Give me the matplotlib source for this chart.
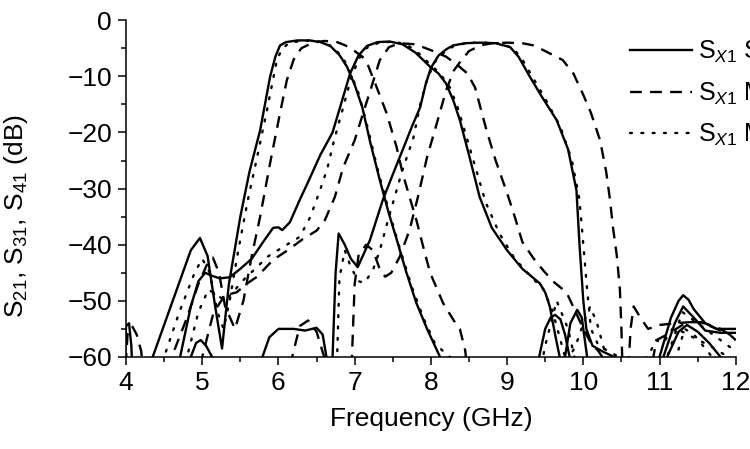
import numpy as np
import matplotlib
matplotlib.use("Agg")
import matplotlib.pyplot as plt
from matplotlib.ticker import MultipleLocator

plt.rcParams['font.family'] = ['Liberation Sans', 'DejaVu Sans']
plt.rcParams['mathtext.fontset'] = 'custom'
plt.rcParams['mathtext.rm'] = 'Liberation Sans'
plt.rcParams['mathtext.it'] = 'Liberation Sans:italic'

# frequency (GHz), dB  -- values below -60 are off the plot
s21_sim = np.array([
    [4.3, -65], [4.35, -60], [4.6, -50.5], [4.85, -41], [4.97, -38.8], [5.07, -42],
    [5.17, -51], [5.26, -58.5], [5.35, -47], [5.5, -35], [5.62, -27], [5.76, -19.6],
    [5.89, -10.1], [5.96, -6.5], [6.02, -4.5], [6.1, -3.9], [6.25, -3.6], [6.41, -3.6],
    [6.55, -3.9], [6.68, -4.6], [6.8, -6.2], [6.9, -8.3], [7.0, -11.5], [7.1, -15.5],
    [7.2, -21.5], [7.33, -28.5], [7.45, -34.5], [7.55, -39], [7.68, -45], [7.81, -50.4],
    [7.95, -55], [8.12, -60], [8.2, -63], [9.38, -65], [9.42, -60], [9.5, -55],
    [9.57, -53], [9.63, -52.5], [9.7, -53.3], [9.76, -56], [9.82, -60], [9.86, -65],
    [10.95, -65], [11.0, -60], [11.15, -53], [11.25, -50], [11.31, -49], [11.38, -49.8],
    [11.45, -51.5], [11.6, -54], [11.75, -55], [12.0, -55]])

s31_sim = np.array([
    [4.65, -65], [4.71, -60], [4.85, -51], [4.95, -46.5], [5.04, -45], [5.12, -45.5],
    [5.23, -46], [5.36, -45.8], [5.5, -44.3], [5.65, -42.5], [5.8, -39.5], [5.93, -37],
    [6.0, -36.9], [6.05, -37.4], [6.15, -36], [6.28, -32], [6.4, -28.5], [6.55, -24],
    [6.71, -20], [6.82, -15], [6.94, -9.5], [7.05, -6.3], [7.16, -4.6], [7.3, -3.9],
    [7.46, -3.8], [7.63, -4.3], [7.8, -5.8], [7.99, -8.3], [8.1, -9.5], [8.2, -11.3],
    [8.3, -14.5], [8.38, -17.8], [8.5, -24], [8.64, -31.5], [8.8, -37], [9.0, -41],
    [9.2, -44.3], [9.43, -46.9], [9.5, -48.5], [9.56, -51], [9.63, -56], [9.69, -60],
    [9.72, -65], [9.74, -65], [9.76, -60], [9.83, -54], [9.92, -51.6], [9.98, -53],
    [10.05, -60], [10.08, -65], [11.0, -65], [11.05, -60], [11.2, -54], [11.31, -51],
    [11.45, -53], [11.6, -55.3], [11.8, -55.7], [12.0, -55.7]])

s41_sim = np.array([
    [3.98, -65], [4.0, -54.5], [4.04, -54], [4.07, -58], [4.09, -65], [4.82, -65],
    [4.85, -60], [4.92, -57.5], [4.98, -57], [5.05, -58], [5.13, -60], [5.16, -65],
    [5.75, -65], [5.79, -60], [5.88, -56.5], [6.0, -55], [6.2, -55], [6.35, -55.3],
    [6.5, -54.8], [6.58, -56], [6.63, -60], [6.66, -65], [6.69, -65], [6.71, -60],
    [6.75, -45], [6.79, -38], [6.87, -40], [6.95, -42.5], [7.04, -44], [7.2, -39.2],
    [7.37, -32], [7.5, -27.5], [7.63, -23.1], [7.75, -19], [7.86, -15.5], [7.93, -11.5],
    [8.0, -8.5], [8.1, -6.3], [8.2, -5.2], [8.29, -4.5], [8.45, -4.1], [8.64, -4.0],
    [8.85, -4.1], [9.04, -4.8], [9.15, -6.5], [9.3, -10.1], [9.45, -13.5], [9.65, -17.8],
    [9.8, -23], [9.91, -30.3], [9.95, -40], [10.0, -50], [10.04, -55], [10.12, -58],
    [10.25, -59], [10.48, -60.5], [11.05, -65], [11.1, -60], [11.25, -55.5],
    [11.36, -54.3], [11.5, -55.5], [11.65, -57.5], [11.8, -60], [11.85, -65]])

s21_meas1 = np.array([
    [3.98, -65], [4.02, -56], [4.08, -54.5], [4.14, -56], [4.2, -59], [4.24, -65],
    [4.55, -65], [4.6, -60], [4.8, -53], [4.95, -47], [5.08, -43], [5.14, -42.3],
    [5.22, -45], [5.3, -51], [5.43, -55], [5.54, -50], [5.65, -42], [5.76, -35],
    [5.89, -25.5], [6.02, -16.6], [6.11, -10.7], [6.2, -7], [6.3, -5], [6.45, -4],
    [6.6, -3.7], [6.75, -3.8], [6.88, -4.5], [7.0, -5.5], [7.1, -6.5], [7.16, -7.5],
    [7.29, -12], [7.42, -16.6], [7.55, -22.6], [7.63, -27.3], [7.72, -31.5],
    [7.81, -35.6], [7.9, -40.4], [7.99, -45], [8.16, -50.4], [8.3, -53.5], [8.38, -55],
    [8.45, -58.8], [8.5, -65], [10.85, -65], [10.96, -57], [11.1, -56], [11.36, -53.8],
    [11.55, -53.8], [11.75, -55], [11.92, -56], [12.0, -57]])

s31_meas1 = np.array([
    [4.95, -65], [5.0, -60], [5.15, -52], [5.3, -49], [5.45, -48.5], [5.58, -47],
    [5.72, -45.7], [5.93, -42.7], [6.12, -41], [6.32, -39], [6.5, -37.5], [6.61, -35.6],
    [6.74, -31.5], [6.85, -26.2], [7.0, -21.4], [7.11, -16.6], [7.22, -11.9],
    [7.33, -7.1], [7.45, -4.8], [7.59, -4.1], [7.8, -4.3], [8.03, -5.5], [8.2, -6.5],
    [8.35, -8], [8.48, -9.5], [8.58, -12], [8.73, -19.6], [8.85, -25], [9.0, -30.8],
    [9.1, -35], [9.2, -39.5], [9.35, -42.5], [9.47, -44.5], [9.6, -46.5], [9.78, -48.5],
    [9.9, -52], [10.0, -55], [10.1, -57.5], [10.2, -59], [10.3, -61]])

s41_meas1 = np.array([
    [6.1, -65], [6.18, -60], [6.28, -54.5], [6.39, -53.5], [6.5, -55.5], [6.6, -60],
    [6.65, -65], [6.95, -65], [6.97, -58], [7.0, -47], [7.05, -42], [7.15, -40],
    [7.24, -41], [7.32, -44], [7.4, -45.7], [7.48, -45], [7.59, -42.2], [7.72, -37.4],
    [7.83, -31.5], [7.95, -24.4], [8.09, -17.8], [8.2, -12.5], [8.3, -9], [8.38, -7.5],
    [8.5, -5.5], [8.65, -4.5], [8.8, -4.1], [9.0, -4.0], [9.2, -4.1], [9.35, -4.5],
    [9.5, -5.5], [9.73, -7.1], [9.87, -9.5], [9.99, -13], [10.1, -16.5], [10.22, -21.4],
    [10.3, -27], [10.35, -32], [10.39, -37], [10.44, -42], [10.48, -48], [10.5, -55],
    [10.52, -65], [10.58, -65], [10.62, -55], [10.66, -51], [10.75, -53], [10.85, -55],
    [11.0, -54.3], [11.2, -54], [11.4, -53.8], [11.6, -54], [11.8, -55], [11.92, -56],
    [12.0, -57]])

s21_meas2 = np.array([
    [4.45, -65], [4.5, -60], [4.7, -52], [4.9, -45], [5.0, -42.5], [5.1, -45],
    [5.2, -52], [5.28, -55], [5.36, -50], [5.46, -42], [5.59, -32.6], [5.72, -24.4],
    [5.85, -16], [5.93, -10.5], [5.98, -7.1], [6.05, -5], [6.15, -4], [6.3, -3.7],
    [6.45, -3.6], [6.6, -4.0], [6.72, -4.8], [6.85, -6.8], [6.95, -9.5], [7.05, -13],
    [7.15, -18], [7.3, -26.5], [7.45, -34], [7.6, -41], [7.75, -47.5], [7.9, -53],
    [8.05, -57.5], [8.2, -59.5], [8.35, -61], [9.4, -65], [9.5, -58], [9.65, -50],
    [9.8, -55], [9.9, -61], [11.0, -65], [11.1, -60], [11.3, -52], [11.5, -54],
    [11.7, -56], [11.9, -58], [12.0, -59]])

s31_meas2 = np.array([
    [4.75, -65], [4.8, -60], [4.95, -52], [5.08, -48], [5.2, -49], [5.3, -50],
    [5.4, -48.5], [5.58, -45.7], [5.72, -44], [5.85, -42.2], [6.05, -40.5],
    [6.28, -38.6], [6.42, -35], [6.54, -30.5], [6.64, -26.5], [6.73, -21.4],
    [6.85, -15.5], [6.95, -10.5], [7.05, -7], [7.15, -5], [7.3, -4.1], [7.5, -3.8],
    [7.68, -4.3], [7.85, -6], [8.0, -8], [8.12, -9.5], [8.25, -12], [8.35, -15.5],
    [8.45, -20], [8.58, -26], [8.72, -32.5], [8.9, -38], [9.1, -42.5], [9.3, -45.5],
    [9.48, -48], [9.6, -52], [9.7, -57], [9.78, -61], [9.9, -58], [10.0, -54],
    [10.09, -51], [10.18, -54], [10.3, -60], [10.4, -62], [10.85, -60], [10.95, -57],
    [11.05, -57.5], [11.17, -55], [11.3, -55.5], [11.44, -56.5], [11.66, -58],
    [11.9, -60], [12.0, -61]])

s41_meas2 = np.array([
    [6.74, -65], [6.77, -60], [6.8, -46], [6.87, -41], [6.95, -44], [7.05, -46.5],
    [7.13, -46.8], [7.24, -44.5], [7.33, -41], [7.45, -35], [7.62, -27], [7.77, -21],
    [7.86, -15], [7.95, -10.5], [8.05, -7.5], [8.15, -6], [8.3, -4.6], [8.5, -4.0],
    [8.7, -4.0], [8.9, -4.1], [9.08, -5], [9.2, -7], [9.35, -10.5], [9.5, -14],
    [9.7, -19], [9.85, -25], [9.95, -32], [10.0, -40], [10.05, -48], [10.1, -55],
    [10.2, -58], [10.4, -59.5], [10.6, -61], [11.15, -62], [11.22, -60], [11.33, -55],
    [11.45, -56], [11.6, -58.5], [11.75, -61]])

# the reference figure is cropped at its right edge, only this much of each label shows
legend_labels = ['S$_{X1}$ S', 'S$_{X1}$ M', 'S$_{X1}$ M']

solid = '-'
dashed = (0, (5, 3.5))
dotted = (0, (0.8, 4))

fig, ax = plt.subplots(figsize=(7.5, 4.49), dpi=100)
fig.subplots_adjust(left=0.168, right=0.981, bottom=0.205, top=0.955)

lw = 1.7
for data in (s21_sim, s31_sim, s41_sim):
    ax.plot(data[:, 0], data[:, 1], color='black', lw=lw, ls=solid)
for data in (s21_meas1, s31_meas1, s41_meas1):
    ax.plot(data[:, 0], data[:, 1], color='black', lw=lw, ls=dashed)
for data in (s21_meas2, s31_meas2, s41_meas2):
    ax.plot(data[:, 0], data[:, 1], color='black', lw=lw, ls=dotted, dash_capstyle='round')

# legend handles
h1, = ax.plot([], [], color='black', lw=lw, ls=solid)
h2, = ax.plot([], [], color='black', lw=lw, ls=dashed)
h3, = ax.plot([], [], color='black', lw=lw, ls=dotted, dash_capstyle='round')
ax.legend([h1, h2, h3], legend_labels, loc='upper left', bbox_to_anchor=(0.826, 0.945),
          frameon=False, fontsize=18, handlelength=2.5, handletextpad=0.25,
          labelspacing=0.62, borderpad=0, borderaxespad=0)

ax.set_xlim(4, 12)
ax.set_ylim(-60, 0)
ax.xaxis.set_major_locator(MultipleLocator(1))
ax.xaxis.set_minor_locator(MultipleLocator(0.5))
ax.yaxis.set_major_locator(MultipleLocator(10))
ax.yaxis.set_minor_locator(MultipleLocator(5))

for s in ('top', 'right'):
    ax.spines[s].set_visible(False)
for s in ('left', 'bottom'):
    ax.spines[s].set_linewidth(1.1)

ax.tick_params(which='major', direction='out', length=6, width=1.1, labelsize=19, pad=4)
ax.tick_params(which='minor', direction='out', length=3.5, width=1.1)

ax.set_xlabel('Frequency (GHz)', fontsize=19)
ax.set_ylabel('S$_{21}$, S$_{31}$, S$_{41}$ (dB)', fontsize=19)
ax.xaxis.set_label_coords(0.5, -0.15)
ax.yaxis.set_label_coords(-0.157, 0.42)

fig.savefig('out.png', dpi=100)
